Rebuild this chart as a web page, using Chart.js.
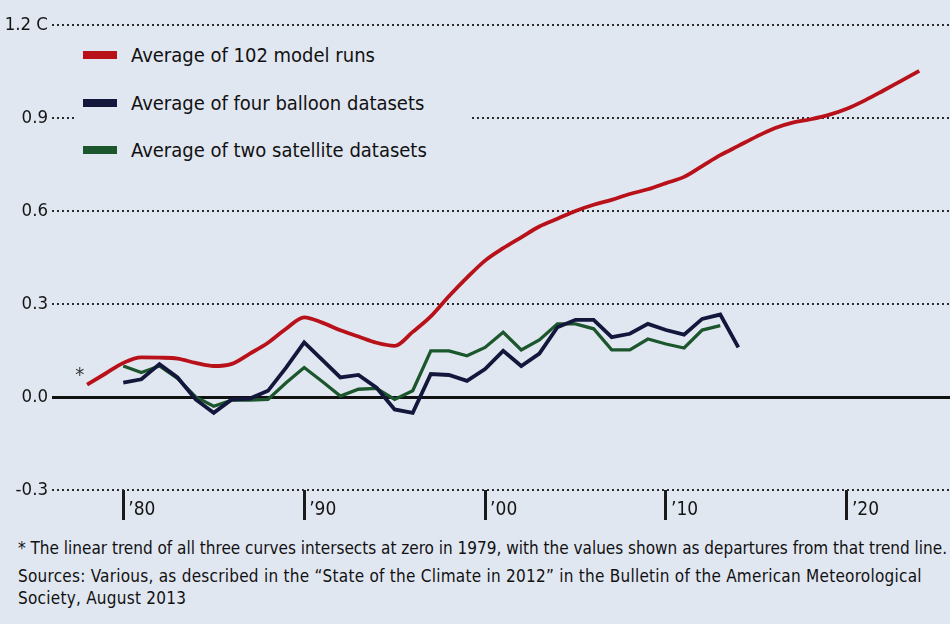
<!DOCTYPE html>
<html>
<head>
<meta charset="utf-8">
<script src="https://cdn.jsdelivr.net/npm/chart.js@4.4.1/dist/chart.umd.min.js"></script>
<style>
  body {
    margin: 0;
    background: #e1e7f1;
    width: 950px;
    height: 624px;
    overflow: hidden;
    font-family: "DejaVu Sans Condensed", "Liberation Sans Narrow", "DejaVu Sans", sans-serif;
    color: #111;
  }
  #wrap { position: relative; width: 950px; height: 530px; }
  #chart { display: block; }
  #legend { position: absolute; left: 75px; top: 33px; width: 395px; height: 142px; background: #e1e7f1; }
  .row { position: absolute; left: 8px; height: 24px; display: flex; align-items: center; font-size: 20px; white-space: nowrap; }
  .sw { width: 34px; height: 8px; margin-right: 14px; }
  .note { position: absolute; left: 18px; font-size: 17px; white-space: nowrap; }
</style>
</head>
<body>
<div id="wrap">
  <canvas id="chart" width="950" height="530"></canvas>
  <div id="legend"></div>
</div>
<div class="note" style="top:538px">* The linear trend of all three curves intersects at zero in 1979, with the values shown as departures from that trend line.</div>
<div class="note" style="top:566px; letter-spacing:0.25px">Sources: Various, as described in the “State of the Climate in 2012” in the Bulletin of the American Meteorological</div>
<div class="note" style="top:588px; letter-spacing:0.25px">Society, August 2013</div>
<script>
const years = [1978, 1979, 1980, 1981, 1982, 1983, 1984, 1985, 1986, 1987, 1988, 1989,
  1990, 1991, 1992, 1993, 1994, 1995, 1996, 1997, 1998, 1999, 2000, 2001, 2002, 2003,
  2004, 2005, 2006, 2007, 2008, 2009, 2010, 2011, 2012, 2013, 2014, 2015, 2016, 2017,
  2018, 2019, 2020, 2021, 2022, 2023, 2024];

// Average of 102 model runs
const modelRuns = [0.04, 0.075, 0.11, 0.128, 0.127, 0.124, 0.11, 0.10, 0.107, 0.14, 0.175, 0.22,
  0.257, 0.24, 0.215, 0.195, 0.175, 0.165, 0.21, 0.26, 0.325, 0.385, 0.44, 0.48, 0.515, 0.55,
  0.575, 0.60, 0.62, 0.636, 0.655, 0.67, 0.69, 0.71, 0.745, 0.78, 0.81, 0.84, 0.867, 0.885,
  0.896, 0.91, 0.93, 0.957, 0.988, 1.02, 1.052];

// Average of four balloon datasets
const balloon = [null, null, 0.046, 0.057, 0.106, 0.063, -0.008, -0.051, -0.008, -0.005, 0.02, 0.095,
  0.176, 0.12, 0.063, 0.071, 0.03, -0.04, -0.051, 0.074, 0.071, 0.052, 0.09, 0.149, 0.10, 0.14,
  0.225, 0.249, 0.249, 0.193, 0.204, 0.236, 0.216, 0.201, 0.252, 0.266, 0.16, null, null, null,
  null, null, null, null, null, null, null];

// Average of two satellite datasets
const satellite = [null, null, 0.10, 0.079, 0.10, 0.06, 0.0, -0.03, -0.01, -0.01, -0.008, 0.046,
  0.095, 0.05, 0.003, 0.025, 0.028, -0.008, 0.02, 0.149, 0.149, 0.133, 0.16, 0.209, 0.152, 0.184,
  0.236, 0.236, 0.22, 0.152, 0.152, 0.187, 0.171, 0.158, 0.216, 0.23, null, null, null, null,
  null, null, null, null, null, null, null];

const seriesNames = ["Average of 102 model runs", "Average of four balloon datasets", "Average of two satellite datasets"];
const seriesColors = ["#b8111a", "#12173b", "#1c562c"];

const xTickYears = [1980, 1990, 2000, 2010, 2020];
const xTickLabels = ["’80", "’90", "’00", "’10", "’20"];
const yTickValues = [-0.3, 0, 0.3, 0.6, 0.9, 1.2];
const yTickLabels = ["-0.3", "0.0", "0.3", "0.6", "0.9", "1.2 C"];

const FONT = "'DejaVu Sans Condensed', 'Liberation Sans Narrow', 'DejaVu Sans', sans-serif";

function toPoints(values) {
  return years.map((yr, i) => ({ x: yr, y: values[i] }));
}

// legend (html, covers the gridlines like the original)
const legendEl = document.getElementById("legend");
const rowTops = [10, 58, 105];
for (let i = 0; i < seriesNames.length; i++) {
  const row = document.createElement("div");
  row.className = "row";
  row.style.top = rowTops[i] + "px";
  const sw = document.createElement("span");
  sw.className = "sw";
  sw.style.background = seriesColors[i];
  const txt = document.createElement("span");
  txt.innerText = seriesNames[i];
  row.appendChild(sw);
  row.appendChild(txt);
  legendEl.appendChild(row);
}

// asterisk next to the start of the model curve
const noteMark = {
  id: "noteMark",
  afterDatasetsDraw(chart) {
    const ctx = chart.ctx;
    const x = chart.scales.x.getPixelForValue(1977.6);
    const y = chart.scales.y.getPixelForValue(0.07);
    ctx.save();
    ctx.fillStyle = "#333";
    ctx.font = "20px " + FONT;
    ctx.textAlign = "center";
    ctx.textBaseline = "middle";
    ctx.fillText("*", x, y);
    ctx.restore();
  },
};

const ctx = document.getElementById("chart").getContext("2d");
new Chart(ctx, {
  type: "line",
  data: {
    datasets: [
      {
        label: seriesNames[0],
        data: toPoints(modelRuns),
        borderColor: seriesColors[0],
        borderWidth: 3.8,
        pointRadius: 0,
        tension: 0.4,
        cubicInterpolationMode: "monotone",
      },
      {
        label: seriesNames[1],
        data: toPoints(balloon),
        borderColor: seriesColors[1],
        borderWidth: 3.8,
        pointRadius: 0,
        tension: 0,
      },
      {
        label: seriesNames[2],
        data: toPoints(satellite),
        borderColor: seriesColors[2],
        borderWidth: 3.3,
        pointRadius: 0,
        tension: 0,
      },
    ],
  },
  options: {
    responsive: false,
    animation: false,
    layout: { padding: { top: 25, right: 0, left: 0, bottom: 0 } },
    plugins: { legend: { display: false }, tooltip: { enabled: false } },
    scales: {
      x: {
        type: "linear",
        min: 1976.06,
        max: 2025.7,
        afterBuildTicks: (scale) => {
          scale.ticks = xTickYears.map((v) => ({ value: v }));
        },
        afterFit: (scale) => {
          scale.height = 40;
        },
        ticks: {
          callback: (value) => xTickLabels[xTickYears.indexOf(value)],
          align: "start",
          labelOffset: 5,
          padding: -21,
          color: "#151515",
          font: { family: FONT, size: 19 },
          maxRotation: 0,
        },
        grid: {
          drawOnChartArea: false,
          drawTicks: true,
          tickLength: 30,
          tickWidth: 3,
          tickColor: "#1a1a1a",
        },
        border: { display: false },
      },
      y: {
        min: -0.3,
        max: 1.2,
        afterBuildTicks: (scale) => {
          scale.ticks = yTickValues.map((v) => ({ value: v }));
        },
        afterFit: (scale) => {
          scale.width = 52;
        },
        ticks: {
          callback: (value) => yTickLabels[yTickValues.indexOf(value)],
          padding: 4,
          color: "#151515",
          font: { family: FONT, size: 18.5 },
        },
        grid: {
          drawTicks: false,
          color: (c) => (c.tick && c.tick.value === 0 ? "#111" : "#2a2a2a"),
          lineWidth: (c) => (c.tick && c.tick.value === 0 ? 3 : 2),
        },
        border: {
          display: false,
          dash: (c) => (c.tick && c.tick.value === 0 ? [] : [2, 3]),
        },
      },
    },
  },
  plugins: [noteMark],
});
</script>
</body>
</html>
